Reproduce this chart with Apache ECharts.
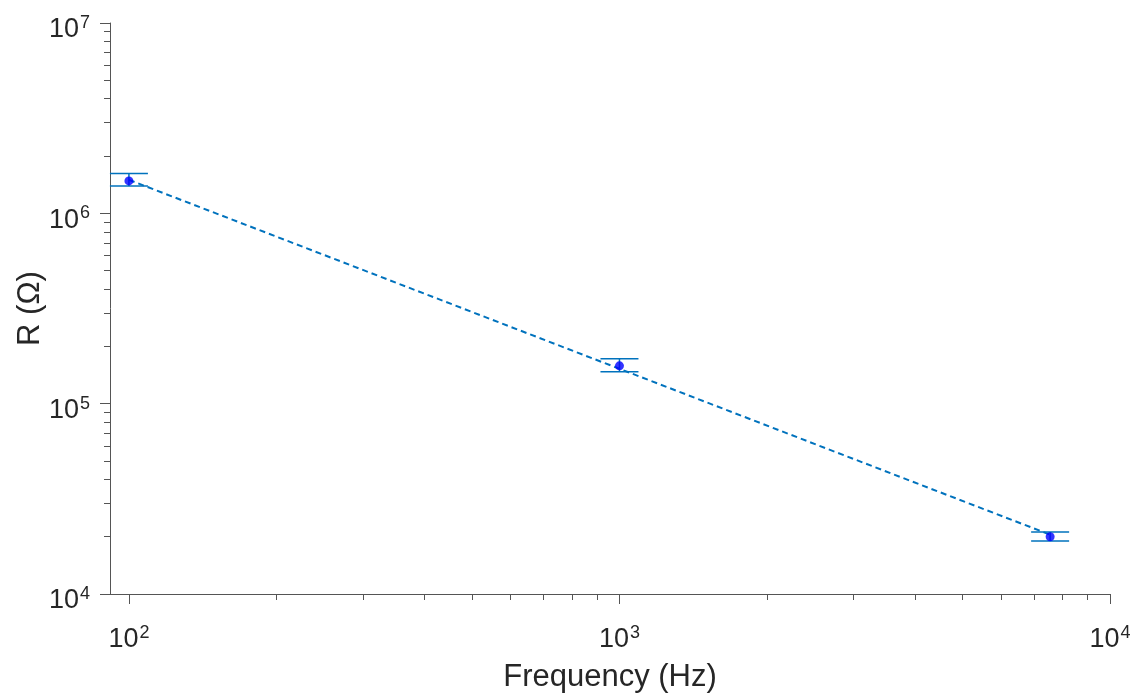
<!DOCTYPE html>
<html>
<head>
<meta charset="utf-8">
<script src="https://cdn.jsdelivr.net/npm/echarts@6/dist/echarts.min.js"></script>
<style>
  html, body { margin: 0; padding: 0; background: #fff; }
  #main { width: 1147px; height: 697px; }
</style>
</head>
<body>
<div id="main"></div>
<script>
const freqHz = [100, 1000, 7550];
const resistance = [1.48e6, 1.58e5, 2.0e4];
const resLow = [1.39e6, 1.47e5, 1.90e4];
const resHigh = [1.62e6, 1.72e5, 2.12e4];

// power-law fit, drawn dashed
const fitFreq = [100, 7550];
const fitRes = [1.5e6, 2.05e4];

// tick values
const xMajorTicks = [100, 1000, 10000];
const xMinorTicks = [200, 300, 400, 500, 600, 700, 800, 900,
  2000, 3000, 4000, 5000, 6000, 7000, 8000, 9000];
const yMajorTicks = [1e4, 1e5, 1e6, 1e7];
const yMinorTicks = [2e4, 3e4, 4e4, 5e4, 6e4, 7e4, 8e4, 9e4,
  2e5, 3e5, 4e5, 5e5, 6e5, 7e5, 8e5, 9e5,
  2e6, 3e6, 4e6, 5e6, 6e6, 7e6, 8e6, 9e6];

const FONT = '"Liberation Sans", Arial, Helvetica, sans-serif';
const AXIS_COLOR = '#555';
const TEXT_COLOR = '#262626';
const X_MIN = 91.5, X_MAX = 10000;
const Y_MIN = 1e4, Y_MAX = 1e7;

// 10^n labels with a raised exponent
const powLabel = v => '{m|10}{s|' + Math.round(Math.log10(v)) + '}';
const powRich = {
  m: { fontSize: 27, fontFamily: FONT, color: TEXT_COLOR, lineHeight: 32 },
  s: { fontSize: 18, fontFamily: FONT, color: TEXT_COLOR, lineHeight: 16, verticalAlign: 'top', padding: [0, 0, 0, 1] }
};

const errData = freqHz.map((f, i) => [f, resistance[i], resLow[i], resHigh[i]]);
const pointData = freqHz.map((f, i) => [f, resistance[i]]);
const fitData = fitFreq.map((f, i) => [f, fitRes[i]]);

const chart = echarts.init(document.getElementById('main'));

chart.setOption({
  animation: false,
  backgroundColor: '#fff',
  grid: { left: 110, right: 37, top: 23, bottom: 103, containLabel: false, outerBoundsMode: 'none' },
  xAxis: [{
    type: 'log',
    logBase: 10,
    min: X_MIN,
    max: X_MAX,
    name: 'Frequency (Hz)',
    nameLocation: 'middle',
    nameGap: 68,
    nameTextStyle: { fontSize: 31, fontFamily: FONT, color: TEXT_COLOR },
    axisLine: { show: true, lineStyle: { color: AXIS_COLOR, width: 1 } },
    axisTick: { show: true, length: 10, customValues: xMajorTicks, lineStyle: { color: AXIS_COLOR } },
    axisLabel: { customValues: xMajorTicks, margin: 30, formatter: powLabel, rich: powRich },
    splitLine: { show: false }
  }, {
    // minor ticks only
    type: 'log',
    logBase: 10,
    min: X_MIN,
    max: X_MAX,
    position: 'bottom',
    axisLine: { show: false },
    axisTick: { show: true, length: 6, customValues: xMinorTicks, lineStyle: { color: AXIS_COLOR } },
    axisLabel: { show: false },
    splitLine: { show: false }
  }],
  yAxis: [{
    type: 'log',
    logBase: 10,
    min: Y_MIN,
    max: Y_MAX,
    name: 'R (Ω)',
    nameLocation: 'middle',
    nameGap: 64,
    nameMoveOverlap: false,
    nameTextStyle: { fontSize: 31, fontFamily: FONT, color: TEXT_COLOR },
    axisLine: { show: true, lineStyle: { color: AXIS_COLOR, width: 1 } },
    axisTick: { show: true, length: 10, customValues: yMajorTicks, lineStyle: { color: AXIS_COLOR } },
    axisLabel: { customValues: yMajorTicks, margin: 20, padding: [14, 0, 0, 0], formatter: powLabel, rich: powRich },
    splitLine: { show: false }
  }, {
    type: 'log',
    logBase: 10,
    min: Y_MIN,
    max: Y_MAX,
    position: 'left',
    axisLine: { show: false },
    axisTick: { show: true, length: 6, customValues: yMinorTicks, lineStyle: { color: AXIS_COLOR } },
    axisLabel: { show: false },
    splitLine: { show: false }
  }],
  series: [{
    // error bars with caps
    type: 'custom',
    xAxisIndex: 0,
    yAxisIndex: 0,
    z: 2,
    data: errData,
    encode: { x: 0, y: [1, 2, 3] },
    renderItem: function (params, api) {
      const x = api.coord([api.value(0), api.value(1)])[0];
      const lo = api.coord([api.value(0), api.value(2)])[1];
      const hi = api.coord([api.value(0), api.value(3)])[1];
      const w = 19;
      const style = { stroke: '#0072BD', lineWidth: 1.5 };
      return {
        type: 'group',
        children: [
          { type: 'line', shape: { x1: x, y1: hi, x2: x, y2: lo }, style: style },
          { type: 'line', shape: { x1: x - w, y1: hi, x2: x + w, y2: hi }, style: style },
          { type: 'line', shape: { x1: x - w, y1: lo, x2: x + w, y2: lo }, style: style }
        ]
      };
    }
  }, {
    type: 'line',
    xAxisIndex: 0,
    yAxisIndex: 0,
    z: 3,
    data: fitData,
    showSymbol: false,
    symbol: 'none',
    lineStyle: { color: '#0072BD', width: 2, type: [6, 4] }
  }, {
    type: 'scatter',
    xAxisIndex: 0,
    yAxisIndex: 0,
    z: 4,
    data: pointData,
    symbol: 'circle',
    symbolSize: 9,
    itemStyle: { color: '#0000FF' }
  }]
});
</script>
</body>
</html>
